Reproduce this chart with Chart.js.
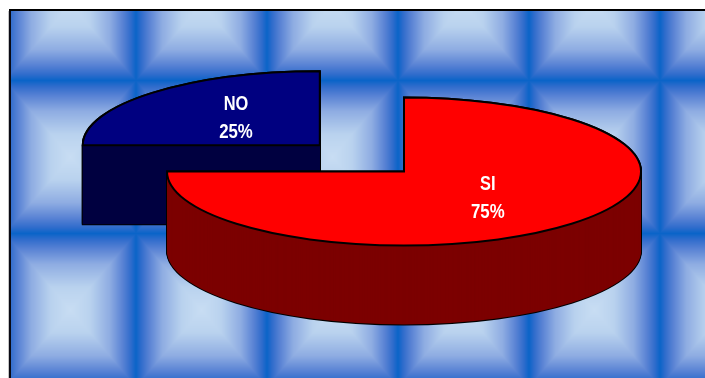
<!DOCTYPE html>
<html>
<head>
<meta charset="utf-8">
<style>
html,body{margin:0;padding:0;background:#fff;overflow:hidden}
canvas{display:block}
</style>
<script src="https://cdn.jsdelivr.net/npm/chart.js@4/dist/chart.umd.min.js"></script>
</head>
<body>
<canvas id="myChart" width="705" height="378"></canvas>
<script>
const categories=['SI','NO']
const values=[75,25]
const percentLabels=['75%','25%']
const topColors=['#ff0000','#000080']
const sideColors=['#7c0000','#000040']

// pie geometry
const apexX=404
const apexY=171.5
const radiusX=237
const radiusY=74
const depth=79
const baseRadius=100
const explode=201
const labelNudge=[1,-1]

// background tile, a pyramid going from light in the middle to blue on the seams
const tileW=131
const tileH=153
const tileX=4.5
const tileY=80
const ramp=[
    [0,200,221,243],
    [0.3,185,210,238],
    [0.6,142,172,226],
    [0.8,88,130,212],
    [0.92,48,108,204],
    [1,10,100,200]
]

function rampColor(t){
    for(let i=1;i<ramp.length;i++){
        if(t<=ramp[i][0]){
            const a=ramp[i-1]
            const b=ramp[i]
            const f=(t-a[0])/(b[0]-a[0])
            return [a[1]+(b[1]-a[1])*f,a[2]+(b[2]-a[2])*f,a[3]+(b[3]-a[3])*f]
        }
    }
    return ramp[ramp.length-1].slice(1)
}

const backdrop={
    id:'backdrop',
    beforeDraw(chart){
        const ctx=chart.ctx
        const left=11
        const top=11
        const w=chart.width-left
        const h=chart.height-top
        const img=ctx.createImageData(w,h)
        for(let y=0;y<h;y++){
            for(let x=0;x<w;x++){
                const u=((x+left-tileX)%tileW+tileW)%tileW/tileW
                const v=((y+top-tileY)%tileH+tileH)%tileH/tileH
                const t=Math.max(Math.abs(u-0.5),Math.abs(v-0.5))*2
                const c=rampColor(t)
                const p=(y*w+x)*4
                img.data[p]=c[0]
                img.data[p+1]=c[1]
                img.data[p+2]=c[2]
                img.data[p+3]=255
            }
        }
        ctx.save()
        ctx.fillStyle='#fff'
        ctx.fillRect(0,0,chart.width,chart.height)
        ctx.putImageData(img,left,top)
        ctx.fillStyle='#c4c4c4'
        ctx.fillRect(8,11,1,chart.height-11)
        ctx.fillStyle='#0a0a14'
        ctx.fillRect(9,11,2,chart.height-11)
        ctx.fillStyle='#000'
        ctx.fillRect(9,9,chart.width-9,2)
        ctx.restore()
    }
}

function arcOptions(color,line,width,offset){
    return {
        backgroundColor:color,
        borderColor:line,
        borderWidth:width,
        borderAlign:'center',
        borderJoinStyle:'miter',
        borderRadius:0,
        borderDash:[],
        borderDashOffset:0,
        spacing:0,
        circular:true,
        offset
    }
}

const pie3d={
    id:'pie3d',
    beforeDatasetsDraw(chart){
        const ctx=chart.ctx
        const arcs=chart.getDatasetMeta(0).data
        const sx=radiusX/arcs[0].outerRadius
        const sy=radiusY/arcs[0].outerRadius
        const place=function(arc,d){
            ctx.setTransform(1,0,0,1,0,0)
            ctx.translate(apexX,apexY+d)
            ctx.scale(sx,sy)
            ctx.translate(-arc.x,-arc.y)
        }
        // lines have to stay even, so they are stroked outside the squashed transform
        const plainStroke=ctx.stroke
        ctx.stroke=function(){
            this.save()
            this.setTransform(1,0,0,1,0,0)
            plainStroke.call(this)
            this.restore()
        }
        ctx.save()
        // NO lies behind SI
        for(let i=arcs.length-1;i>=0;i--){
            const arc=arcs[i]
            const saved=arc.options
            const offset=saved.offset
            arc.options=arcOptions('#000','#000',2,offset)
            for(let d=depth;d>=0;d--){
                place(arc,d)
                arc.draw(ctx)
            }
            arc.options=arcOptions(sideColors[i],sideColors[i],0,offset)
            for(let d=depth;d>=0;d--){
                place(arc,d)
                arc.draw(ctx)
            }
            arc.options=arcOptions(topColors[i],'#000',2,offset)
            place(arc,0)
            arc.draw(ctx)
            arc.options=saved
        }
        ctx.restore()
        delete ctx.stroke

        // labels sit half way along each slice
        ctx.save()
        ctx.setTransform(1,0,0,1,0,0)
        ctx.fillStyle='#fff'
        ctx.textAlign='center'
        ctx.textBaseline='middle'
        ctx.font='bold 20.5px "Liberation Sans", Arial, sans-serif'
        arcs.forEach((arc,i)=>{
            const mid=(arc.startAngle+arc.endAngle)/2
            const shift=(arc.options.offset||0)/4
            const x=apexX+sx*(Math.cos(mid)*(arc.outerRadius/2+shift))
            const y=apexY+sy*(Math.sin(mid)*(arc.outerRadius/2+shift))+labelNudge[i]
            ctx.save()
            ctx.translate(x,y-14)
            ctx.scale(0.8,1)
            ctx.fillText(categories[i],0,0)
            ctx.restore()
            ctx.save()
            ctx.translate(x,y+14)
            ctx.scale(0.82,1)
            ctx.fillText(percentLabels[i],0,0)
            ctx.restore()
        })
        ctx.restore()
        return false
    }
}

const ctx=document.getElementById('myChart')
const myPie=new Chart(ctx,{
    type:'pie',
    data:{
        labels:categories,
        datasets:[{
            data:values,
            backgroundColor:topColors,
            offset:[0,explode]
        }]
    },
    options:{
        responsive:false,
        animation:false,
        radius:baseRadius,
        layout:{padding:0},
        plugins:{
            legend:{display:false},
            tooltip:{enabled:false}
        }
    },
    plugins:[backdrop,pie3d]
})
</script>
</body>
</html>
